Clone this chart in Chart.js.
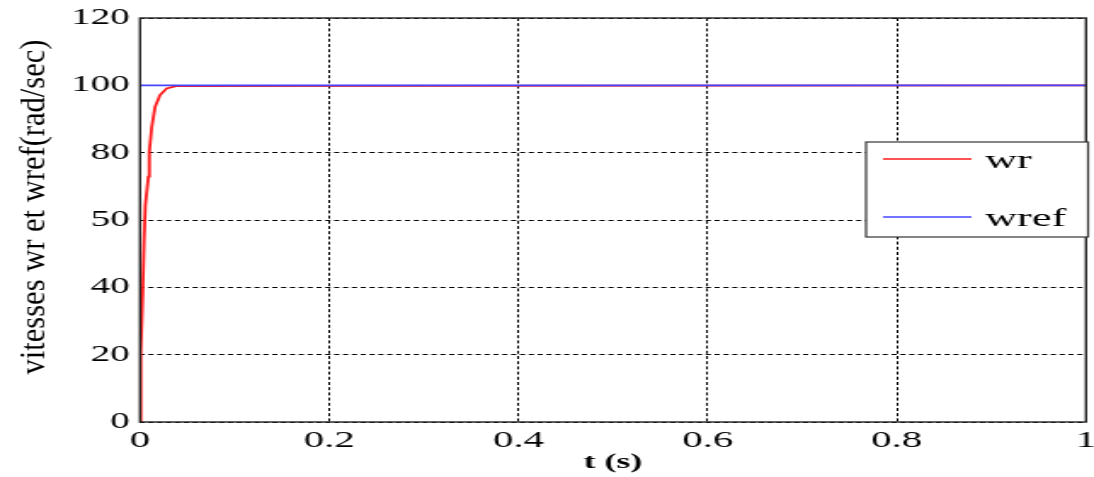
<!DOCTYPE html>
<html><head><meta charset="utf-8">
<script src="https://cdn.jsdelivr.net/npm/chart.js@4"></script>
<style>
html,body{margin:0;padding:0;background:#fff;overflow:hidden}
#wrap{width:643px;height:477px;transform:scaleX(1.70140);transform-origin:0 0}
</style>
</head><body>
<div id="wrap"><canvas id="c" width="643" height="477"></canvas></div>
<script>
// time (s) and rotor speed wr (rad/sec)
const tWr = [0, 0.0007, 0.0009, 0.0029, 0.0042, 0.0056, 0.0088, 0.0098, 0.0124, 0.0159, 0.0211, 0.0282, 0.0388, 1];
const wr  = [0, 20, 20.5, 39, 53.5, 64.4, 72.9, 80.3, 87.7, 93.6, 97.1, 99.1, 99.8, 100];
// reference speed wref
const tRef = [0, 1];
const wref = [100, 100];
const seriesNames = ['wr', 'wref'];
const xTickLabels = ['0', '0.2', '0.4', '0.6', '0.8', '1'];
const yTickLabels = ['0', '20', '40', '50', '80', '100', '120'];
const xTitle = 't (s)';
const yTitle = 'vitesses wr et wref(rad/sec)';

const SX = 1094 / 643; // horizontal stretch of the original figure
const serif = "'Liberation Serif', 'DejaVu Serif', serif";

const framePlugin = {
  id: 'frame',
  afterDatasetsDraw(chart) {
    const {ctx, chartArea: a} = chart;
    ctx.save();
    ctx.strokeStyle = '#222';
    ctx.lineWidth = 1.4;
    ctx.strokeRect(a.left, a.top, a.right - a.left, a.bottom - a.top);
    ctx.restore();
  }
};

const yTitlePlugin = {
  id: 'yTitle',
  afterDraw(chart) {
    const {ctx} = chart;
    ctx.save();
    ctx.font = '34px ' + serif;
    const w = ctx.measureText(yTitle).width;
    ctx.translate(36 / SX, 207);
    ctx.scale(1 / SX, 1);
    ctx.rotate(-Math.PI / 2);
    ctx.scale(335 / w, 1);
    ctx.fillStyle = '#000';
    ctx.textAlign = 'center';
    ctx.textBaseline = 'middle';
    ctx.fillText(yTitle, 0, 0);
    ctx.restore();
  }
};

const legendPlugin = {
  id: 'boxLegend',
  afterDraw(chart) {
    const {ctx, chartArea: a} = chart;
    const bx = a.right - 129.3, by = a.top + 124, bw = 130.5, bh = 95;
    ctx.save();
    ctx.fillStyle = '#fff';
    ctx.fillRect(bx, by, bw, bh);
    ctx.strokeStyle = '#333';
    ctx.lineWidth = 1.2;
    ctx.strokeRect(bx, by, bw, bh);
    const rows = [by + 17, by + 75];
    chart.data.datasets.forEach((ds, i) => {
      const y = rows[i];
      ctx.strokeStyle = ds.borderColor;
      ctx.lineWidth = 1.3;
      ctx.beginPath();
      ctx.moveTo(bx + 10, y);
      ctx.lineTo(bx + 62, y);
      ctx.stroke();
      ctx.fillStyle = '#000';
      ctx.font = '26px ' + serif;
      ctx.textBaseline = 'alphabetic';
      ctx.textAlign = 'left';
      ctx.fillText(ds.label, bx + 70, y + 8.5);
    });
    ctx.restore();
  }
};

new Chart(document.getElementById('c'), {
  type: 'line',
  data: {
    datasets: [
      { label: seriesNames[0], data: tWr.map((t, i) => ({x: t, y: wr[i]})),
        borderColor: '#ff1a1a', borderWidth: 1.8, pointRadius: 0, tension: 0, order: 1 },
      { label: seriesNames[1], data: tRef.map((t, i) => ({x: t, y: wref[i]})),
        borderColor: '#4646ff', borderWidth: 1.8, pointRadius: 0, tension: 0, order: 0 }
    ]
  },
  options: {
    responsive: false,
    animation: false,
    layout: { padding: { left: 0, right: 4.7, top: 18, bottom: 0 } },
    plugins: { legend: { display: false }, tooltip: { enabled: false } },
    scales: {
      x: {
        type: 'linear', min: 0, max: 1,
        afterFit(s) { s.height = 55; s.paddingLeft = 0; s.paddingRight = 0; },
        afterBuildTicks(s) { s.ticks = xTickLabels.map(v => ({value: parseFloat(v)})); },
        ticks: { callback: (v, i) => xTickLabels[i], color: '#000', padding: 4, maxRotation: 0,
                 font: { family: serif, size: 24 } },
        grid: { color: '#000', lineWidth: 1, drawTicks: false },
        border: { display: false, dash: [3, 2.2] },
        title: { display: true, text: xTitle, color: '#000', padding: { top: 0, bottom: 3.5 },
                 font: { family: serif, size: 21, weight: 'bold', lineHeight: 1 } }
      },
      y: {
        min: 0, max: 120,
        afterFit(s) { s.width = 82.3; s.paddingTop = 0; s.paddingBottom = 0; },
        afterBuildTicks(s) { s.ticks = yTickLabels.map((v, i) => ({value: i * 20})); },
        ticks: { callback: (v, i) => yTickLabels[i], color: '#000', padding: 6,
                 font: { family: serif, size: 23 } },
        grid: { color: '#000', lineWidth: 1, drawTicks: false },
        border: { display: false, dash: [3, 2.2] },
        title: { display: false }
      }
    }
  },
  plugins: [framePlugin, legendPlugin, yTitlePlugin]
});
</script>
</body></html>
